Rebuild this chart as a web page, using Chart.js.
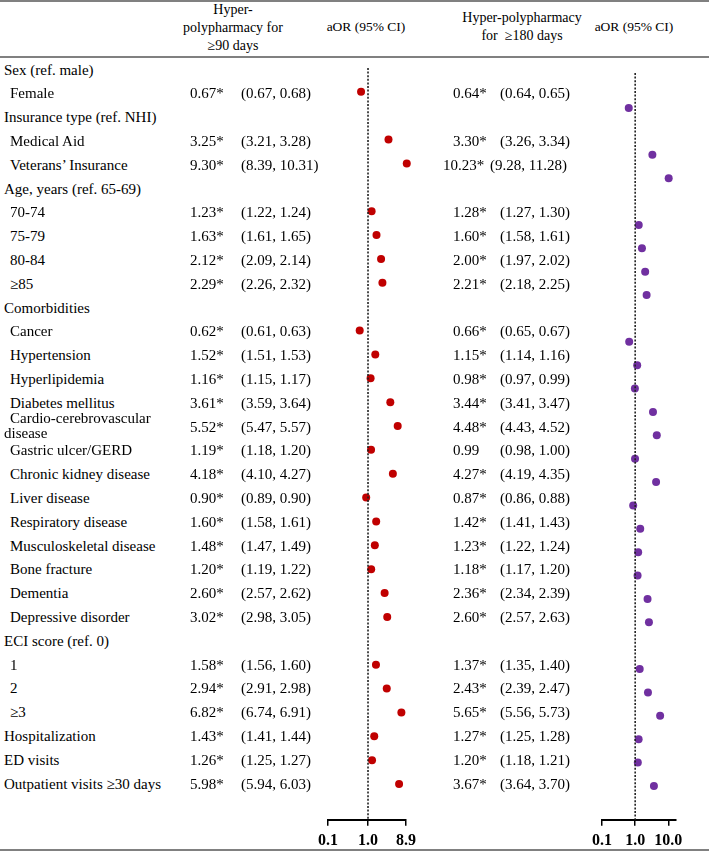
<!DOCTYPE html>
<html>
<head>
<meta charset="utf-8">
<script src="https://cdn.jsdelivr.net/npm/chart.js@4.4.1/dist/chart.umd.min.js"></script>
<style>
body { margin: 0; background: #fff; font-family: "Liberation Serif", "Times New Roman", serif; color: #000; }
#page { position: relative; width: 709px; height: 852px; overflow: hidden; }
.t { position: absolute; white-space: nowrap; font-size: 15px; line-height: 18px; }
.h { position: absolute; font-size: 14px; line-height: 18px; text-align: center; }
.rule { position: absolute; left: 0; width: 709px; height: 2px; background: #808080; }
canvas { position: absolute; }
</style>
</head>
<body>
<div id="page">
  <div class="rule" style="top:0"></div>
  <div class="rule" style="top:56px"></div>
  <div class="rule" style="top:849px"></div>
  <div class="h" style="left:163px;top:1px;width:140px">Hyper-<br>polypharmacy for<br>≥90 days</div>
  <div class="h" style="left:316px;top:18px;width:100px;font-size:13.5px">aOR (95% CI)</div>
  <div class="h" style="left:447px;top:9px;width:150px">Hyper-polypharmacy<br>for &nbsp;≥180 days</div>
  <div class="h" style="left:584px;top:18px;width:100px;font-size:13.5px">aOR (95% CI)</div>
  <canvas id="c90" width="118" height="791" style="left:308px;top:64px"></canvas>
  <canvas id="c180" width="114" height="786" style="left:582px;top:69px"></canvas>
</div>
<script>
// rows of the table, header rows have no values
var rowLabels = ['Sex (ref. male)', 'Female', 'Insurance type (ref. NHI)', 'Medical Aid', 'Veterans\u2019 Insurance',
  'Age, years (ref. 65-69)', '70-74', '75-79', '80-84', '\u226585', 'Comorbidities', 'Cancer', 'Hypertension',
  'Hyperlipidemia', 'Diabetes mellitus', 'Cardio-cerebrovascular disease', 'Gastric ulcer/GERD', 'Chronic kidney disease',
  'Liver disease', 'Respiratory disease', 'Musculoskeletal disease', 'Bone fracture', 'Dementia', 'Depressive disorder',
  'ECI score (ref. 0)', '1', '2', '\u22653', 'Hospitalization', 'ED visits', 'Outpatient visits \u226530 days'];
var subItem = [0,1,0,1,1,0,1,1,1,1,0,1,1,1,1,1,1,1,1,1,1,1,1,1,0,1,1,1,0,0,0];

// hyper-polypharmacy for >=90 days
var aor90 = [null,0.67,null,3.25,9.30,null,1.23,1.63,2.12,2.29,null,0.62,1.52,1.16,3.61,5.52,1.19,4.18,0.90,1.60,1.48,1.20,2.60,3.02,null,1.58,2.94,6.82,1.43,1.26,5.98];
var lo90  = [null,0.67,null,3.21,8.39,null,1.22,1.61,2.09,2.26,null,0.61,1.51,1.15,3.59,5.47,1.18,4.10,0.89,1.58,1.47,1.19,2.57,2.98,null,1.56,2.91,6.74,1.41,1.25,5.94];
var hi90  = [null,0.68,null,3.28,10.31,null,1.24,1.65,2.14,2.32,null,0.63,1.53,1.17,3.64,5.57,1.20,4.27,0.90,1.61,1.49,1.22,2.62,3.05,null,1.60,2.98,6.91,1.44,1.27,6.03];
var sig90 = [0,1,0,1,1,0,1,1,1,1,0,1,1,1,1,1,1,1,1,1,1,1,1,1,0,1,1,1,1,1,1];

// hyper-polypharmacy for >=180 days
var aor180 = [null,0.64,null,3.30,10.23,null,1.28,1.60,2.00,2.21,null,0.66,1.15,0.98,3.44,4.48,0.99,4.27,0.87,1.42,1.23,1.18,2.36,2.60,null,1.37,2.43,5.65,1.27,1.20,3.67];
var lo180  = [null,0.64,null,3.26,9.28,null,1.27,1.58,1.97,2.18,null,0.65,1.14,0.97,3.41,4.43,0.98,4.19,0.86,1.41,1.22,1.17,2.34,2.57,null,1.35,2.39,5.56,1.25,1.18,3.64];
var hi180  = [null,0.65,null,3.34,11.28,null,1.30,1.61,2.02,2.25,null,0.67,1.16,0.99,3.47,4.52,1.00,4.35,0.88,1.43,1.24,1.20,2.39,2.63,null,1.40,2.47,5.73,1.28,1.21,3.70];
var sig180 = [0,1,0,1,1,0,1,1,1,1,0,1,1,1,1,1,0,1,1,1,1,1,1,1,0,1,1,1,1,1,1];

var ticks90 = [0.1, 1.0, 8.9];
var ticks180 = [0.1, 1.0, 10.0];

var page = document.getElementById('page');
function addText(txt, x, y, cls) {
  var d = document.createElement('div');
  d.className = cls || 't';
  d.textContent = txt;
  d.style.left = x + 'px';
  d.style.top = y + 'px';
  page.appendChild(d);
  return d;
}

for (var i = 0; i < rowLabels.length; i++) {
  var cy = 69.5 + 23.8 * i;
  var ty = cy - 9;
  if (i == 15) {
    var d = addText(rowLabels[i], 4, cy - 16);
    d.style.whiteSpace = 'normal';
    d.style.width = '170px';
    d.style.lineHeight = '15px';
    d.style.textIndent = '6px';
  } else {
    addText(rowLabels[i], subItem[i] ? 10 : 4, ty);
  }
  if (aor90[i] != null) {
    addText(aor90[i].toFixed(2) + (sig90[i] ? '*' : ''), 190, ty);
    addText('(' + lo90[i].toFixed(2) + ', ' + hi90[i].toFixed(2) + ')', 241, ty);
  }
  if (aor180[i] != null) {
    var sh = aor180[i] >= 10 ? 10 : 0;
    addText(aor180[i].toFixed(2) + (sig180[i] ? '*' : ''), 453 - sh, ty);
    addText('(' + lo180[i].toFixed(2) + ', ' + hi180[i].toFixed(2) + ')', 500 - sh, ty);
  }
}

function makeChart(id, vals, color, xMax, xTicks, yMin, yMax) {
  var pts = [];
  for (var i = 0; i < vals.length; i++) {
    if (vals[i] != null) pts.push({x: vals[i], y: i});
  }
  return new Chart(document.getElementById(id), {
    type: 'scatter',
    data: {
      datasets: [{
        type: 'line',
        data: [{x: 1, y: yMin}, {x: 1, y: yMax}],
        borderColor: '#222',
        borderWidth: 1.6,
        borderDash: [2, 1.6],
        pointRadius: 0,
        clip: false
      }, {
        data: pts,
        backgroundColor: color,
        borderWidth: 0,
        pointRadius: 4,
        pointHoverRadius: 4,
        clip: false
      }]
    },
    options: {
      responsive: false,
      animation: false,
      events: [],
      layout: { padding: { left: 20, right: 20, top: 0, bottom: 0 } },
      plugins: { legend: { display: false }, tooltip: { enabled: false } },
      scales: {
        x: {
          type: 'logarithmic',
          min: 0.1,
          max: xMax,
          afterBuildTicks: function(s) { s.ticks = xTicks.map(function(v) { return {value: v}; }); },
          ticks: {
            color: '#000',
            font: { family: 'Liberation Serif', size: 16, weight: 'bold' },
            padding: 5,
            maxRotation: 0,
            autoSkip: false,
            callback: function(v) { return Number(v).toFixed(1); }
          },
          grid: { drawOnChartArea: false, color: '#000', lineWidth: 1.5, tickLength: 6 },
          border: { color: '#000', width: 2 }
        },
        y: { type: 'linear', reverse: true, min: yMin, max: yMax, display: false }
      }
    }
  });
}

makeChart('c90', aor90, '#C00000', 8.9, ticks90, 0, 31.5);
makeChart('c180', aor180, '#7030A0', 17, ticks180, -0.5, 31.45);
</script>
</body>
</html>
